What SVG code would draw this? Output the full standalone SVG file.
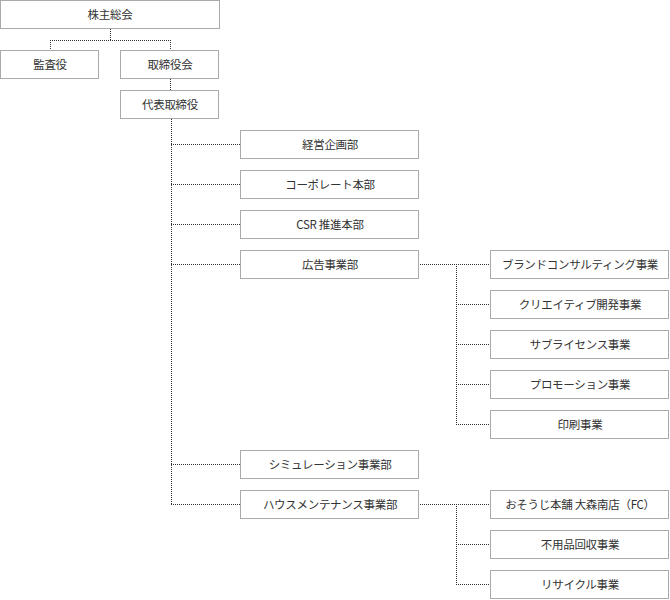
<svg xmlns="http://www.w3.org/2000/svg" width="670" height="600" viewBox="0 0 670 600">
<style>
.b rect{fill:#fff;stroke:#aaa;stroke-width:1}
.b text{font-family:"Noto Sans CJK JP","Liberation Sans",sans-serif;font-size:11.5px;letter-spacing:-0.3px;fill:#333;text-anchor:middle}
.c line{stroke:#333;stroke-width:1;stroke-dasharray:1,1}
</style>
<rect width="670" height="600" fill="#fff"/>
<g class="c" id="connectors">
<line x1="110.5" y1="29" x2="110.5" y2="40"/>
<line x1="50" y1="40.5" x2="171" y2="40.5"/>
<line x1="50.5" y1="40" x2="50.5" y2="50"/>
<line x1="170.5" y1="40" x2="170.5" y2="50"/>
<line x1="170.5" y1="79" x2="170.5" y2="90"/>
<line x1="171.5" y1="119" x2="171.5" y2="505"/>
<line x1="171" y1="144.5" x2="240" y2="144.5"/>
<line x1="171" y1="184.5" x2="240" y2="184.5"/>
<line x1="171" y1="224.5" x2="240" y2="224.5"/>
<line x1="171" y1="264.5" x2="240" y2="264.5"/>
<line x1="171" y1="464.5" x2="240" y2="464.5"/>
<line x1="171" y1="504.5" x2="240" y2="504.5"/>
<line x1="420" y1="264.5" x2="490" y2="264.5"/>
<line x1="456.5" y1="264" x2="456.5" y2="425"/>
<line x1="456" y1="304.5" x2="490" y2="304.5"/>
<line x1="456" y1="344.5" x2="490" y2="344.5"/>
<line x1="456" y1="384.5" x2="490" y2="384.5"/>
<line x1="456" y1="424.5" x2="490" y2="424.5"/>
<line x1="420" y1="504.5" x2="490" y2="504.5"/>
<line x1="456.5" y1="504" x2="456.5" y2="585"/>
<line x1="456" y1="544.5" x2="490" y2="544.5"/>
<line x1="456" y1="584.5" x2="490" y2="584.5"/>
</g>
<g class="b" id="n1"><rect x="0.5" y="0.5" width="219" height="28"/><text x="110" y="19">株主総会</text></g>
<g class="b" id="n2"><rect x="0.5" y="50.5" width="98" height="28"/><text x="50" y="69">監査役</text></g>
<g class="b" id="n3"><rect x="120.5" y="50.5" width="98" height="28"/><text x="170" y="69">取締役会</text></g>
<g class="b" id="n4"><rect x="120.5" y="90.5" width="98" height="28"/><text x="170" y="109">代表取締役</text></g>
<g class="b" id="n5"><rect x="240.5" y="130.5" width="178" height="28"/><text x="330" y="149">経営企画部</text></g>
<g class="b" id="n6"><rect x="240.5" y="170.5" width="178" height="28"/><text x="330" y="189">コーポレート本部</text></g>
<g class="b" id="n7"><rect x="240.5" y="210.5" width="178" height="28"/><text x="330" y="229">CSR 推進本部</text></g>
<g class="b" id="n8"><rect x="240.5" y="250.5" width="178" height="28"/><text x="330" y="269">広告事業部</text></g>
<g class="b" id="n9"><rect x="240.5" y="450.5" width="178" height="28"/><text x="330" y="469">シミュレーション事業部</text></g>
<g class="b" id="n10"><rect x="240.5" y="490.5" width="178" height="28"/><text x="330" y="509">ハウスメンテナンス事業部</text></g>
<g class="b" id="n11"><rect x="490.5" y="250.5" width="178" height="28"/><text x="580" y="269">ブランドコンサルティング事業</text></g>
<g class="b" id="n12"><rect x="490.5" y="290.5" width="178" height="28"/><text x="580" y="309">クリエイティブ開発事業</text></g>
<g class="b" id="n13"><rect x="490.5" y="330.5" width="178" height="28"/><text x="580" y="349">サブライセンス事業</text></g>
<g class="b" id="n14"><rect x="490.5" y="370.5" width="178" height="28"/><text x="580" y="389">プロモーション事業</text></g>
<g class="b" id="n15"><rect x="490.5" y="410.5" width="178" height="28"/><text x="580" y="429">印刷事業</text></g>
<g class="b" id="n16"><rect x="490.5" y="490.5" width="178" height="28"/><text x="580" y="509">おそうじ本舗 大森南店（FC）</text></g>
<g class="b" id="n17"><rect x="490.5" y="530.5" width="178" height="28"/><text x="580" y="549">不用品回収事業</text></g>
<g class="b" id="n18"><rect x="490.5" y="570.5" width="178" height="28"/><text x="580" y="589">リサイクル事業</text></g>
</svg>
